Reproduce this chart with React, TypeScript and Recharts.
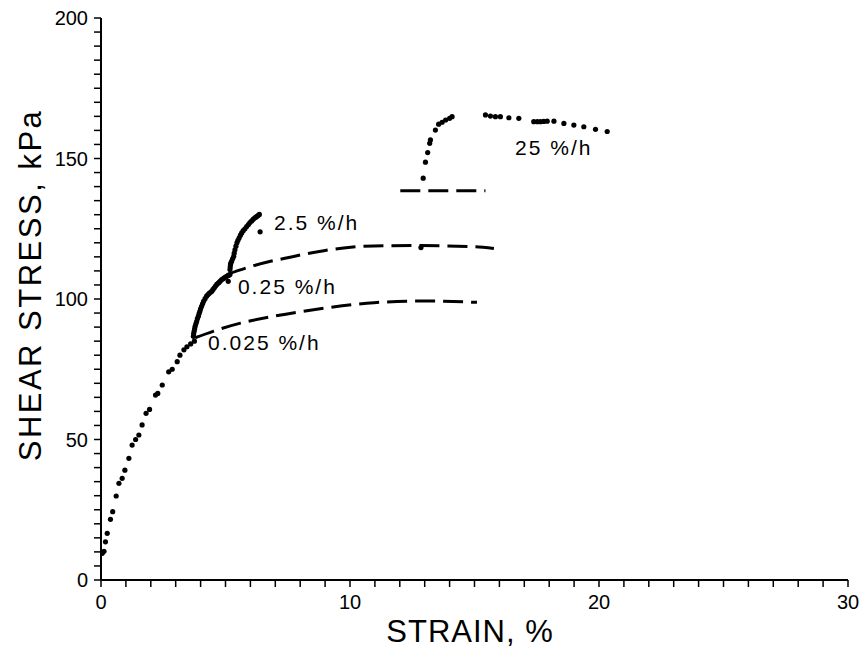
import { ComposedChart, XAxis, YAxis, Scatter, Line, ReferenceDot } from 'recharts';

// strain (%) / shear stress (kPa) pairs
const baseCurve = [
  [0.05, 9.5], [0.12, 10.2], [0.18, 13.6], [0.25, 16.6], [0.38, 21.6], [0.47, 24.3],
  [0.61, 29.9], [0.72, 34.4], [0.85, 36.2], [0.96, 39.1], [1.12, 43.3], [1.25, 48],
  [1.39, 50], [1.52, 51.6], [1.65, 55.2], [1.81, 59.3], [1.95, 60.7], [2.19, 65.8],
  [2.28, 66.4], [2.46, 69.4], [2.72, 74.1], [2.86, 75], [3.06, 77.7], [3.17, 80],
  [3.33, 81.9], [3.45, 83], [3.6, 84], [3.75, 85],
];

const branch025 = [
  [3.71, 86.7], [3.72, 87.6], [3.74, 88.5], [3.76, 89.4], [3.78, 90.3], [3.81, 91.2],
  [3.84, 92], [3.87, 93], [3.91, 93.9], [3.94, 94.8], [3.97, 95.6], [4.0, 96.5],
  [4.04, 97.4], [4.08, 98.3], [4.12, 99.2], [4.18, 100.1], [4.24, 101], [4.29, 101.5],
  [4.34, 102], [4.4, 102.4], [4.45, 102.8], [4.5, 103.4], [4.55, 104], [4.6, 104.6],
  [4.65, 105.2], [4.7, 105.6], [4.75, 106], [4.8, 106.5], [4.85, 106.9], [4.9, 107.2],
  [4.95, 107.5], [5.0, 107.8], [5.05, 108.1], [5.12, 108.4], [5.18, 108.7],
  [5.11, 106.3],
];

const branch2_5 = [
  [5.18, 110.5], [5.19, 111.4], [5.2, 112.3], [5.22, 112.9], [5.25, 113.5], [5.29, 114.4],
  [5.33, 115.2], [5.35, 116.3], [5.38, 117.5], [5.42, 118.8], [5.46, 120], [5.5, 120.9],
  [5.55, 121.8], [5.6, 122.7], [5.65, 123.5], [5.71, 124.3], [5.78, 125], [5.85, 125.8],
  [5.92, 126.5], [5.98, 127.2], [6.05, 127.8], [6.12, 128.4], [6.18, 128.9], [6.23, 129.2],
  [6.28, 129.5], [6.32, 129.8], [6.36, 130.1],
  [6.39, 123.9],
];

const branch25 = [
  [12.94, 143], [13.03, 148.7], [13.12, 152.1], [13.2, 155.4], [13.23, 156.6], [13.43, 160.1],
  [13.56, 162.2], [13.7, 162.9], [13.84, 163.7], [14.0, 164.3], [14.1, 164.9],
  [15.44, 165.5], [15.64, 165.1], [15.84, 164.9], [16.04, 164.9], [16.38, 164.5], [16.78, 164.3],
  [17.38, 163.1], [17.52, 163.1], [17.65, 163.1], [17.78, 163.2], [17.92, 163.3], [18.19, 163.3],
  [18.59, 162.5], [18.99, 161.9], [19.39, 161.3], [19.86, 160.4], [20.33, 159.6],
  [12.85, 118.3],
];

const creep0025 = [
  [3.78, 86.2], [4.5, 88.5], [5.6, 91.4], [6.9, 93.8], [8.95, 96.7], [10.96, 98.7],
  [12.96, 99.3], [15.1, 98.8],
];

const creep025 = [
  [5.05, 108.7], [5.85, 111.1], [6.65, 113.1], [7.34, 114.4], [8.95, 117.2], [10.96, 118.9],
  [12.83, 119], [14.97, 118.6], [15.78, 118],
];

const creep25 = [[12.02, 138.5], [15.44, 138.5]];

const rateLabels = ['2.5 %/h', '0.25 %/h', '0.025 %/h', '25 %/h'];
const rateLabelStrain = [6.95, 5.5, 4.3, 16.63];
const rateLabelStress = [127.2, 104.4, 84.5, 153.9];

// minor ticks every 1 % strain / 5 kPa, numbers only on the majors
const strainTicks = Array.from({ length: 31 }, (_, i) => i);
const stressTicks = Array.from({ length: 41 }, (_, i) => i * 5);
const strainLabels = [0, 10, 20, 30];
const stressLabels = [0, 50, 100, 150, 200];

const FONT = '"Liberation Sans", Arial, sans-serif';

const toPoints = (arr: number[][]) => arr.map(([x, y]) => ({ x, y }));

const renderDot = (props: any) => <circle cx={props.cx} cy={props.cy} r={2.6} fill="#000" />;

export default function App() {
  return (
    <div style={{ position: 'absolute', left: 0, top: 0, width: 862, height: 648, background: '#fff' }}>
      <ComposedChart width={862} height={648} margin={{ top: 18, right: 14, bottom: 0, left: 0 }}>
        <XAxis
          type="number"
          dataKey="x"
          domain={[0, 30]}
          ticks={strainTicks}
          interval={0}
          allowDataOverflow
          height={68}
          tickSize={7}
          tickMargin={8}
          stroke="#000"
          strokeWidth={2}
          tickLine={{ stroke: '#000', strokeWidth: 1.5 }}
          tick={{ fill: '#000', fontSize: 20, fontFamily: FONT }}
          tickFormatter={(v: number) => (strainLabels.includes(v) ? String(v) : '')}
          label={() => (
            <text x={470} y={642} textAnchor="middle" fontSize={31} letterSpacing={1} fontFamily={FONT} fill="#000">
              STRAIN, %
            </text>
          )}
        />
        <YAxis
          type="number"
          dataKey="y"
          domain={[0, 200]}
          ticks={stressTicks}
          interval={0}
          allowDataOverflow
          width={101}
          tickSize={7}
          tickMargin={6}
          stroke="#000"
          strokeWidth={2}
          tickLine={{ stroke: '#000', strokeWidth: 1.5 }}
          tick={{ fill: '#000', fontSize: 20, fontFamily: FONT }}
          tickFormatter={(v: number) => (stressLabels.includes(v) ? String(v) : '')}
          label={() => (
            <text
              x={30}
              y={285}
              transform="rotate(-90 30 285)"
              textAnchor="middle"
              dominantBaseline="central"
              fontSize={31}
              letterSpacing={2.5}
              fontFamily={FONT}
              fill="#000"
            >
              SHEAR STRESS, kPa
            </text>
          )}
        />

        <Line data={toPoints(creep0025)} dataKey="y" type="monotone" stroke="#000" strokeWidth={3} strokeDasharray="20 8" dot={false} isAnimationActive={false} />
        <Line data={toPoints(creep025)} dataKey="y" type="monotone" stroke="#000" strokeWidth={3} strokeDasharray="20 8" dot={false} isAnimationActive={false} />
        <Line data={toPoints(creep25)} dataKey="y" type="linear" stroke="#000" strokeWidth={3} strokeDasharray="20 8" dot={false} isAnimationActive={false} />

        <Scatter data={toPoints(baseCurve)} dataKey="y" shape={renderDot} isAnimationActive={false} />
        <Scatter data={toPoints(branch025)} dataKey="y" shape={renderDot} isAnimationActive={false} />
        <Scatter data={toPoints(branch2_5)} dataKey="y" shape={renderDot} isAnimationActive={false} />
        <Scatter data={toPoints(branch25)} dataKey="y" shape={renderDot} isAnimationActive={false} />

        {rateLabels.map((text, i) => (
          <ReferenceDot
            key={text}
            x={rateLabelStrain[i]}
            y={rateLabelStress[i]}
            r={0}
            shape={(p: any) => (
              <text x={p.cx} y={p.cy} dominantBaseline="central" fontSize={21} letterSpacing={2} fontFamily={FONT} fill="#000">
                {text}
              </text>
            )}
          />
        ))}
      </ComposedChart>
    </div>
  );
}
